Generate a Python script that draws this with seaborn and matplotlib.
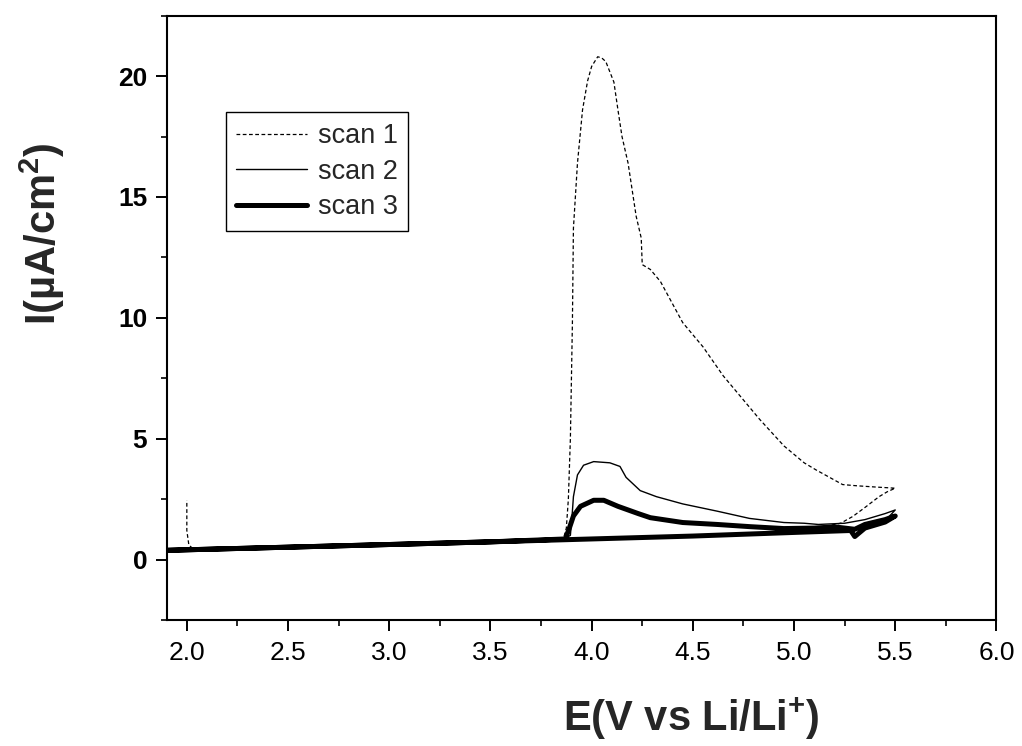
import matplotlib.pyplot as plt
import matplotlib.ticker as mticker
import pandas as pd
import seaborn as sns

# scan 1 (dotted): forward sweep with large oxidation peak, back along baseline
scan1_e = [1.90, 2.50, 3.00, 3.50, 3.86, 3.875, 3.885, 3.895, 3.905, 3.91,
           3.93, 3.955, 3.98, 4.00, 4.03, 4.05, 4.07, 4.11, 4.13, 4.15,
           4.18, 4.20, 4.22, 4.245, 4.25, 4.29, 4.34, 4.45, 4.55, 4.65,
           4.75, 4.83, 4.95, 5.05, 5.11, 5.24, 5.31, 5.40, 5.50,
           5.46, 5.42, 5.35, 5.29, 5.23, 5.00, 4.50, 4.00, 3.50, 3.00,
           2.50, 2.10, 2.03, 2.01, 2.00, 2.00]
scan1_i = [0.38, 0.51, 0.62, 0.73, 0.84, 1.3, 2.5, 5.0, 9.8, 13.7,
           16.4, 18.6, 19.8, 20.4, 20.8, 20.75, 20.6, 19.75, 18.6, 17.5,
           16.4, 15.3, 14.2, 13.3, 12.2, 12.0, 11.5, 9.8, 8.8, 7.6,
           6.6, 5.8, 4.7, 4.0, 3.7, 3.1, 3.05, 3.0, 2.95,
           2.8, 2.6, 2.15, 1.78, 1.5, 1.12, 0.97, 0.85, 0.73, 0.62,
           0.51, 0.42, 0.45, 0.6, 1.2, 2.45]

# scan 2 (thin solid)
scan2_e = [1.90, 2.50, 3.00, 3.50, 3.87, 3.885, 3.895, 3.905, 3.91, 3.93,
           3.96, 4.01, 4.09, 4.14, 4.17, 4.24, 4.32, 4.45, 4.62, 4.78,
           4.95, 5.05, 5.12, 5.25, 5.35, 5.45, 5.50,
           5.45, 5.30, 5.00, 4.50, 4.00, 3.00, 1.90]
scan2_i = [0.38, 0.51, 0.62, 0.73, 0.85, 0.95, 1.0, 2.0, 2.6, 3.5,
           3.9, 4.05, 4.0, 3.85, 3.4, 2.85, 2.6, 2.3, 2.0, 1.7,
           1.53, 1.5, 1.45, 1.5, 1.65, 1.9, 2.05,
           1.6, 1.25, 1.12, 0.97, 0.85, 0.62, 0.38]

# scan 3 (thick solid)
scan3_e = [1.90, 2.50, 3.00, 3.50, 3.87, 3.89, 3.91, 3.945, 4.01, 4.06,
           4.13, 4.23, 4.29, 4.45, 4.62, 4.78, 4.95, 5.10, 5.20, 5.30,
           5.35, 5.45, 5.50,
           5.45, 5.35, 5.30, 5.28, 5.00, 4.50, 4.00, 3.50, 3.00, 2.50, 1.90]
scan3_i = [0.38, 0.51, 0.62, 0.73, 0.85, 1.3, 1.8, 2.2, 2.45, 2.45,
           2.2, 1.9, 1.73, 1.53, 1.45, 1.36, 1.28, 1.3, 1.35, 1.25,
           1.45, 1.65, 1.8,
           1.55, 1.3, 0.95, 1.2, 1.12, 0.97, 0.85, 0.73, 0.62, 0.51, 0.38]

sns.set_theme(style="ticks")
plt.rcParams["font.family"] = ["Liberation Sans", "DejaVu Sans"]
plt.rcParams["mathtext.fontset"] = "custom"
plt.rcParams["mathtext.rm"] = "Liberation Sans:bold"
plt.rcParams["mathtext.bf"] = "Liberation Sans:bold"
plt.rcParams["mathtext.default"] = "bf"

fig = plt.figure(figsize=(10.22, 7.46), dpi=100)
ax = fig.add_axes([0.163, 0.169, 0.812, 0.810])

styles = [
    ("scan 1", scan1_e, scan1_i, dict(linewidth=0.9, linestyle=(0, (3, 2)))),
    ("scan 2", scan2_e, scan2_i, dict(linewidth=1.0, linestyle="-")),
    ("scan 3", scan3_e, scan3_i, dict(linewidth=3.6, linestyle="-")),
]
for label, e, i, kw in styles:
    df = pd.DataFrame({"E": e, "I": i})
    sns.lineplot(data=df, x="E", y="I", sort=False, estimator=None,
                 color="black", label=label, ax=ax, **kw)

ax.set_xlim(1.9, 6.0)
ax.set_ylim(-2.5, 22.5)
ax.xaxis.set_major_locator(mticker.MultipleLocator(0.5))
ax.xaxis.set_minor_locator(mticker.MultipleLocator(0.25))
ax.yaxis.set_major_locator(mticker.MultipleLocator(5))
ax.yaxis.set_minor_locator(mticker.MultipleLocator(2.5))
ax.xaxis.set_major_formatter(mticker.FormatStrFormatter("%.1f"))

for side in ["top", "right", "bottom", "left"]:
    ax.spines[side].set_linewidth(1.5)
    ax.spines[side].set_color("black")
ax.tick_params(which="major", direction="out", length=8, width=1.4,
               color="black", top=False, right=False)
ax.tick_params(which="minor", direction="out", length=4.5, width=1.2,
               color="black", top=False, right=False)
ax.tick_params(axis="x", labelsize=19, pad=7, labelcolor="black")
ax.tick_params(axis="y", labelsize=19, pad=6, labelcolor="black")
for t in ax.get_yticklabels():
    t.set_fontweight("bold")

ax.set_xlabel(r"E(V vs Li/Li$^{+}$)", fontsize=30, fontweight="bold")
ax.set_ylabel(r"I(µA/cm$^{2}$)", fontsize=30, fontweight="bold")
ax.xaxis.set_label_coords(0.632, -0.125)
ax.yaxis.set_label_coords(-0.12, 0.64)

leg = ax.legend(loc="upper left", bbox_to_anchor=(0.071, 0.84),
                borderaxespad=0, fancybox=False, framealpha=1,
                edgecolor="black", fontsize=19.5, handlelength=2.6,
                handletextpad=0.4, labelspacing=0.35, borderpad=0.4)
leg.get_frame().set_linewidth(1.0)

fig.savefig("out.png", dpi=100, facecolor="white")
